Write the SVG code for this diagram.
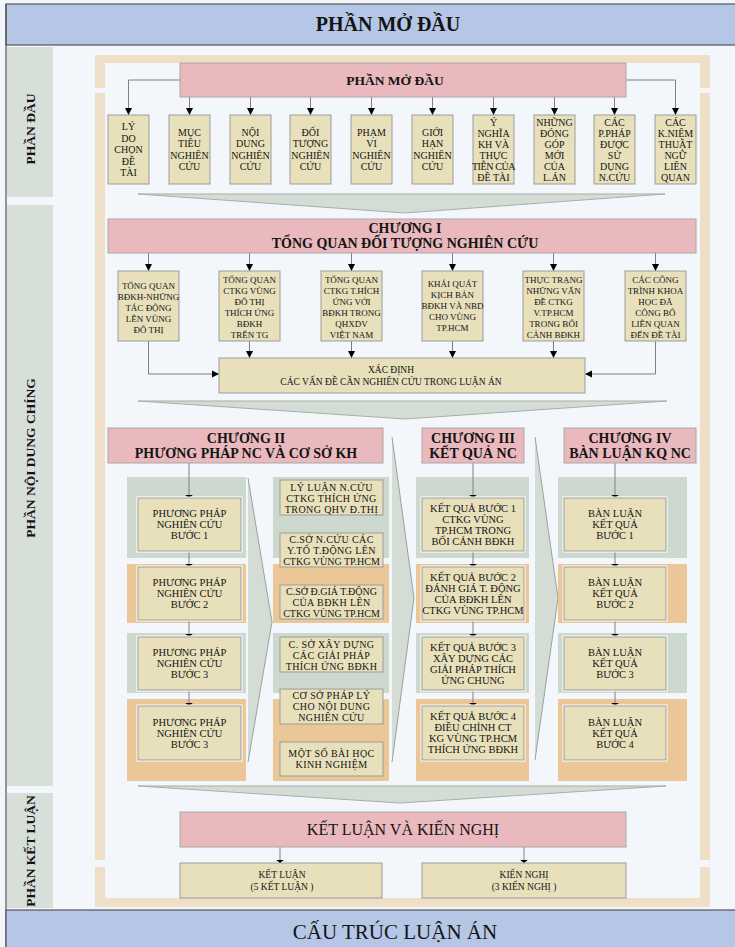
<svg xmlns="http://www.w3.org/2000/svg" width="735" height="947" viewBox="0 0 735 947">
  <defs>
    <style>
      .t{font-family:"Liberation Serif","Times New Roman",serif;text-anchor:middle;fill:#141414}
      .b{font-weight:bold}
      .f10{font-size:10px}
      .f9{font-size:9px}
      .f105{font-size:10.5px}
      .f14{font-size:14px}
      .sp{letter-spacing:0.4px}
      .band{fill:#d7e0d8}
      .pink{fill:#eab9bd;stroke:#a8a8a8;stroke-width:1}
      .khaki{fill:#e8e0bb;stroke:#9b9b9b;stroke-width:1}
      .kw{fill:#e8e0bb;stroke:#9b9b9b;stroke-width:1}
      .halo{fill:none;stroke:#ffffff;stroke-width:3}
      .green{fill:#cdd8ce}
      .orange{fill:#ebc797}
      .chev{fill:#d4ddd5;stroke:#a7afa8;stroke-width:1}
      .vchev{fill:#d4ddd5}
      .vedge{fill:none;stroke:#9aa39b;stroke-width:1}
      .ln{fill:none;stroke:#808080;stroke-width:1}
      .big{marker-end:url(#ah)}
      .flat{marker-end:url(#af)}
    </style>
    <marker id="ah" viewBox="0 0 10 10" refX="10" refY="5" markerUnits="userSpaceOnUse" markerWidth="7" markerHeight="9" orient="auto">
      <path d="M0,0 L10,5 L0,10 Z" fill="#000"/>
    </marker>
    <marker id="af" viewBox="0 0 4 10" refX="4" refY="5" markerUnits="userSpaceOnUse" markerWidth="3.5" markerHeight="8" orient="auto">
      <path d="M0,0 L4,5 L0,10 Z" fill="#000"/>
    </marker>
  </defs>

  <!-- page background -->
  <rect x="0" y="0" width="735" height="947" fill="#f3f6fa"/>

  <!-- title band -->
  <g id="title">
    <rect x="6" y="4" width="740" height="41" fill="#b5c6e6" stroke="#555" stroke-width="1.2"/>
    <text class="t b" x="388" y="31" font-size="20">PHẦN MỞ ĐẦU</text>
  </g>

  <!-- left section labels -->
  <g id="side-labels">
    <line x1="6" y1="4" x2="6" y2="947" stroke="#555" stroke-width="1.2"/>
    <rect class="band" x="7" y="47" width="46" height="150"/>
    <rect class="band" x="7" y="205" width="46" height="581"/>
    <rect class="band" x="7" y="793" width="46" height="115"/>
    <text class="t b" font-size="13.5" transform="translate(30,129) rotate(-90)" dy="0.35em">PHẦN ĐẦU</text>
    <text class="t b" font-size="13.5" transform="translate(30,458) rotate(-90)" dy="0.35em">PHẦN NỘI DUNG CHÍNG</text>
    <text class="t b" font-size="13.5" transform="translate(30,851) rotate(-90)" dy="0.35em">PHẦN KẾT LUẬN</text>
  </g>

  <!-- beige frame -->
  <g id="frame">
    <rect x="95" y="55" width="615" height="852" fill="#efdfc6"/>
    <rect x="105" y="63" width="595" height="835" fill="#f3f6fa"/>
    <rect x="94" y="88" width="12" height="5" fill="#f3f6fa"/>
    <rect x="699" y="88" width="12" height="5" fill="#f3f6fa"/>
    <rect x="94" y="860" width="12" height="7" fill="#f3f6fa"/>
    <rect x="699" y="860" width="12" height="7" fill="#f3f6fa"/>
  </g>

  <!-- flow chevrons -->
  <g id="chevrons">
    <polygon class="chev" points="138,194 665,194 405,213"/>
    <polygon class="chev" points="138,401 667,401 405,419"/>
    <polygon class="chev" points="138,786 666,786 400,803"/>
    <polygon class="vchev" points="248,478 272,622 248,762"/>
    <polyline class="vedge" points="248,478 272,622 248,762"/>
    <polygon class="vchev" points="392,437 414,598 392,762"/>
    <polyline class="vedge" points="392,437 414,598 392,762"/>
    <polygon class="vchev" points="535,437 558,598 535,760"/>
    <polyline class="vedge" points="535,437 558,598 535,760"/>
  </g>

  <!-- column bands -->
  <g id="column-bands">
    <rect class="green" x="127" y="477" width="119" height="81"/>
    <rect class="orange" x="127" y="564" width="119" height="59"/>
    <rect class="green" x="127" y="633" width="119" height="60"/>
    <rect class="orange" x="127" y="699" width="119" height="82"/>
    <rect class="green" x="273" y="477" width="116" height="81"/>
    <rect class="orange" x="273" y="564" width="116" height="59"/>
    <rect class="green" x="273" y="633" width="116" height="60"/>
    <rect class="orange" x="273" y="699" width="116" height="82"/>
    <rect class="green" x="416" y="477" width="113" height="81"/>
    <rect class="orange" x="416" y="564" width="113" height="59"/>
    <rect class="green" x="416" y="633" width="113" height="60"/>
    <rect class="orange" x="416" y="699" width="113" height="82"/>
    <rect class="green" x="558" y="477" width="129" height="81"/>
    <rect class="orange" x="558" y="564" width="129" height="59"/>
    <rect class="green" x="558" y="633" width="129" height="60"/>
    <rect class="orange" x="558" y="699" width="129" height="82"/>
  </g>

  <!-- connectors -->
  <g id="connectors">
    <path class="ln big" d="M180,80 H128.5 V115"/>
    <path class="ln big" d="M189.5,97 V115"/>
    <path class="ln big" d="M250.5,97 V115"/>
    <path class="ln big" d="M310.5,97 V115"/>
    <path class="ln big" d="M371.5,97 V115"/>
    <path class="ln big" d="M432.5,97 V115"/>
    <path class="ln big" d="M493.5,97 V115"/>
    <path class="ln big" d="M554.5,97 V115"/>
    <path class="ln big" d="M614.5,97 V115"/>
    <path class="ln big" d="M626,80 H675.5 V115"/>

    <path class="ln big" d="M148.5,253 V271"/>
    <path class="ln big" d="M249.5,253 V271"/>
    <path class="ln big" d="M351.5,253 V271"/>
    <path class="ln big" d="M452.5,253 V271"/>
    <path class="ln big" d="M553.5,253 V271"/>
    <path class="ln big" d="M655.5,253 V271"/>

    <path class="ln big" d="M148.5,341 V374 H219"/>
    <path class="ln big" d="M249.5,341 V358"/>
    <path class="ln big" d="M351.5,341 V358"/>
    <path class="ln big" d="M452.5,341 V358"/>
    <path class="ln big" d="M553.5,341 V358"/>
    <path class="ln big" d="M655.5,341 V374 H585"/>

    <path class="ln flat" d="M189,463 V498"/>
    <path class="ln flat" d="M189,551 V567"/>
    <path class="ln flat" d="M189,620 V637"/>
    <path class="ln flat" d="M189,690 V706"/>
    <path class="ln flat" d="M473,463 V498"/>
    <path class="ln flat" d="M473,551 V567"/>
    <path class="ln flat" d="M473,620 V637"/>
    <path class="ln flat" d="M473,690 V706"/>
    <path class="ln flat" d="M615,463 V498"/>
    <path class="ln flat" d="M615,551 V567"/>
    <path class="ln flat" d="M615,620 V637"/>
    <path class="ln flat" d="M615,690 V706"/>

    <path class="ln flat" d="M280,847 V863"/>
    <path class="ln flat" d="M524,847 V863"/>
  </g>

  <!-- opening part -->
  <g id="mo-dau">
    <rect class="pink" x="180" y="63" width="446" height="34"/>
    <text class="t b" x="395" y="85" font-size="13.5">PHẦN MỞ ĐẦU</text>
  </g>

  <g id="ly-do">
    <rect class="khaki" x="108" y="115" width="41" height="69"/>
    <text class="t f10"><tspan x="128.5" y="130">LÝ</tspan><tspan x="128.5" y="141.5">DO</tspan><tspan x="128.5" y="153">CHỌN</tspan><tspan x="128.5" y="164.5">ĐỀ</tspan><tspan x="128.5" y="176">TÀI</tspan></text>
  </g>
  <g id="muc-tieu">
    <rect class="khaki" x="169" y="115" width="41" height="69"/>
    <text class="t f10"><tspan x="189.5" y="135.8">MỤC</tspan><tspan x="189.5" y="147.3">TIÊU</tspan><tspan x="189.5" y="158.8">NGHIÊN</tspan><tspan x="189.5" y="170.3">CỨU</tspan></text>
  </g>
  <g id="noi-dung">
    <rect class="khaki" x="230" y="115" width="41" height="69"/>
    <text class="t f10"><tspan x="250.5" y="135.8">NỘI</tspan><tspan x="250.5" y="147.3">DUNG</tspan><tspan x="250.5" y="158.8">NGHIÊN</tspan><tspan x="250.5" y="170.3">CỨU</tspan></text>
  </g>
  <g id="doi-tuong">
    <rect class="khaki" x="290" y="115" width="41" height="69"/>
    <text class="t f10"><tspan x="310.5" y="135.8">ĐỐI</tspan><tspan x="310.5" y="147.3">TƯỢNG</tspan><tspan x="310.5" y="158.8">NGHIÊN</tspan><tspan x="310.5" y="170.3">CỨU</tspan></text>
  </g>
  <g id="pham-vi">
    <rect class="khaki" x="351" y="115" width="41" height="69"/>
    <text class="t f10"><tspan x="371.5" y="135.8">PHẠM</tspan><tspan x="371.5" y="147.3">VI</tspan><tspan x="371.5" y="158.8">NGHIÊN</tspan><tspan x="371.5" y="170.3">CỨU</tspan></text>
  </g>
  <g id="gioi-han">
    <rect class="khaki" x="412" y="115" width="41" height="69"/>
    <text class="t f10"><tspan x="432.5" y="135.8">GIỚI</tspan><tspan x="432.5" y="147.3">HẠN</tspan><tspan x="432.5" y="158.8">NGHIÊN</tspan><tspan x="432.5" y="170.3">CỨU</tspan></text>
  </g>
  <g id="y-nghia">
    <rect class="khaki" x="473" y="115" width="41" height="69"/>
    <text class="t f10"><tspan x="493.5" y="125.5">Ý</tspan><tspan x="493.5" y="136.5">NGHĨA</tspan><tspan x="493.5" y="147.5">KH VÀ</tspan><tspan x="493.5" y="158.5">THỰC</tspan><tspan x="493.5" y="169.5" letter-spacing="-0.4">TIỄN CỦA</tspan><tspan x="493.5" y="180.5">ĐỀ TÀI</tspan></text>
  </g>
  <g id="dong-gop">
    <rect class="khaki" x="534" y="115" width="41" height="69"/>
    <text class="t f10"><tspan x="554.5" y="125.5">NHỮNG</tspan><tspan x="554.5" y="136.5">ĐÓNG</tspan><tspan x="554.5" y="147.5">GÓP</tspan><tspan x="554.5" y="158.5">MỚI</tspan><tspan x="554.5" y="169.5">CỦA</tspan><tspan x="554.5" y="180.5">L.ÁN</tspan></text>
  </g>
  <g id="phuong-phap">
    <rect class="khaki" x="594" y="115" width="41" height="69"/>
    <text class="t f10"><tspan x="614.5" y="125.5">CÁC</tspan><tspan x="614.5" y="136.5">P.PHÁP</tspan><tspan x="614.5" y="147.5">ĐƯỢC</tspan><tspan x="614.5" y="158.5">SỬ</tspan><tspan x="614.5" y="169.5">DỤNG</tspan><tspan x="614.5" y="180.5">N.CỨU</tspan></text>
  </g>
  <g id="khai-niem">
    <rect class="khaki" x="655" y="115" width="41" height="69"/>
    <text class="t f10"><tspan x="675.5" y="125.5">CÁC</tspan><tspan x="675.5" y="136.5">K.NIỆM</tspan><tspan x="675.5" y="147.5">THUẬT</tspan><tspan x="675.5" y="158.5">NGỮ</tspan><tspan x="675.5" y="169.5">LIÊN</tspan><tspan x="675.5" y="180.5">QUAN</tspan></text>
  </g>

  <!-- chapter I -->
  <g id="chuong-1">
    <rect class="pink" x="108" y="219" width="588" height="34"/>
    <text class="t b f14"><tspan x="405" y="233">CHƯƠNG I</tspan><tspan x="405" y="248">TỔNG QUAN ĐỐI TƯỢNG NGHIÊN CỨU</tspan></text>
  </g>
  <g id="tq-bdkh">
    <rect class="khaki" x="118" y="271" width="61" height="70"/>
    <text class="t f9"><tspan x="148.5" y="288.5">TỔNG QUAN</tspan><tspan x="148.5" y="299.5">BĐKH-NHỮNG</tspan><tspan x="148.5" y="310.5">TÁC ĐỘNG</tspan><tspan x="148.5" y="321.5">LÊN VÙNG</tspan><tspan x="148.5" y="332.5">ĐÔ THỊ</tspan></text>
  </g>
  <g id="tq-ctkg-tg">
    <rect class="khaki" x="219" y="271" width="61" height="70"/>
    <text class="t f9"><tspan x="249.5" y="283">TỔNG QUAN</tspan><tspan x="249.5" y="294">CTKG VÙNG</tspan><tspan x="249.5" y="305">ĐÔ THỊ</tspan><tspan x="249.5" y="316">THÍCH ỨNG</tspan><tspan x="249.5" y="327">BĐKH</tspan><tspan x="249.5" y="338">TRÊN TG</tspan></text>
  </g>
  <g id="tq-ctkg-vn">
    <rect class="khaki" x="321" y="271" width="61" height="70"/>
    <text class="t f9"><tspan x="351.5" y="283">TỔNG QUAN</tspan><tspan x="351.5" y="294">CTKG T.HÍCH</tspan><tspan x="351.5" y="305">ỨNG VỚI</tspan><tspan x="351.5" y="316">BĐKH TRONG</tspan><tspan x="351.5" y="327">QHXDV</tspan><tspan x="351.5" y="338">VIỆT NAM</tspan></text>
  </g>
  <g id="kich-ban">
    <rect class="khaki" x="422" y="271" width="61" height="70"/>
    <text class="t f9"><tspan x="452.5" y="286.5">KHÁI QUÁT</tspan><tspan x="452.5" y="297.5">KỊCH BẢN</tspan><tspan x="452.5" y="308.5">BĐKH VÀ NBD</tspan><tspan x="452.5" y="319.5">CHO VÙNG</tspan><tspan x="452.5" y="330.5">TP.HCM</tspan></text>
  </g>
  <g id="thuc-trang">
    <rect class="khaki" x="523" y="271" width="61" height="70"/>
    <text class="t f9"><tspan x="553.5" y="283">THỰC TRẠNG</tspan><tspan x="553.5" y="294">NHỮNG VẤN</tspan><tspan x="553.5" y="305">ĐỀ CTKG</tspan><tspan x="553.5" y="316">V.TP.HCM</tspan><tspan x="553.5" y="327">TRONG BỐI</tspan><tspan x="553.5" y="338">CẢNH BĐKH</tspan></text>
  </g>
  <g id="cong-trinh">
    <rect class="khaki" x="625" y="271" width="61" height="70"/>
    <text class="t f9"><tspan x="655.5" y="283">CÁC CÔNG</tspan><tspan x="655.5" y="294">TRÌNH KHOA</tspan><tspan x="655.5" y="305">HỌC ĐÃ</tspan><tspan x="655.5" y="316">CÔNG BỐ</tspan><tspan x="655.5" y="327">LIÊN QUAN</tspan><tspan x="655.5" y="338">ĐẾN ĐỀ TÀI</tspan></text>
  </g>
  <g id="xac-dinh">
    <rect class="khaki" x="219" y="358" width="366" height="35"/>
    <text class="t" font-size="9.5"><tspan x="391" y="372.5">XÁC ĐỊNH</tspan><tspan x="391" y="385">CÁC VẤN ĐỀ CẦN NGHIÊN CỨU TRONG LUẬN ÁN</tspan></text>
  </g>

  <!-- chapter II -->
  <g id="chuong-2">
    <rect class="pink" x="108" y="428" width="275" height="35"/>
    <text class="t b f14"><tspan x="246" y="443">CHƯƠNG II</tspan><tspan x="246" y="458">PHƯƠNG PHÁP NC VÀ CƠ SỞ KH</tspan></text>
  </g>
  <g id="pp-buoc-1">
    <rect class="halo" x="138" y="498" width="103" height="53"/>
    <rect class="kw" x="138" y="498" width="103" height="53"/>
    <text class="t f105"><tspan x="189.5" y="517.2">PHƯƠNG PHÁP</tspan><tspan x="189.5" y="528.2">NGHIÊN CỨU</tspan><tspan x="189.5" y="539.2">BƯỚC 1</tspan></text>
  </g>
  <g id="pp-buoc-2">
    <rect class="halo" x="138" y="567" width="103" height="53"/>
    <rect class="kw" x="138" y="567" width="103" height="53"/>
    <text class="t f105"><tspan x="189.5" y="586.2">PHƯƠNG PHÁP</tspan><tspan x="189.5" y="597.2">NGHIÊN CỨU</tspan><tspan x="189.5" y="608.2">BƯỚC 2</tspan></text>
  </g>
  <g id="pp-buoc-3">
    <rect class="halo" x="138" y="637" width="103" height="53"/>
    <rect class="kw" x="138" y="637" width="103" height="53"/>
    <text class="t f105"><tspan x="189.5" y="656.2">PHƯƠNG PHÁP</tspan><tspan x="189.5" y="667.2">NGHIÊN CỨU</tspan><tspan x="189.5" y="678.2">BƯỚC 3</tspan></text>
  </g>
  <g id="pp-buoc-4">
    <rect class="halo" x="138" y="706" width="103" height="54"/>
    <rect class="kw" x="138" y="706" width="103" height="54"/>
    <text class="t f105"><tspan x="189.5" y="725.7">PHƯƠNG PHÁP</tspan><tspan x="189.5" y="736.7">NGHIÊN CỨU</tspan><tspan x="189.5" y="747.7">BƯỚC 3</tspan></text>
  </g>

  <g id="ly-luan">
    <rect class="kw" x="280" y="480" width="103" height="35"/>
    <text class="t f10 sp"><tspan x="331.5" y="490.5">LÝ LUẬN N.CỨU</tspan><tspan x="331.5" y="501.5">CTKG THÍCH ỨNG</tspan><tspan x="331.5" y="512.5">TRONG QHV Đ.THỊ</tspan></text>
  </g>
  <g id="co-so-yeu-to">
    <rect class="kw" x="280" y="533" width="103" height="34"/>
    <text class="t f10 sp"><tspan x="331.5" y="542.5">C.SỞ  N.CỨU CÁC</tspan><tspan x="331.5" y="553.5">Y.TỐ T.ĐỘNG LÊN</tspan><tspan x="331.5" y="564.5" letter-spacing="0">CTKG VÙNG TP.HCM</tspan></text>
  </g>
  <g id="co-so-danh-gia">
    <rect class="kw" x="280" y="585" width="103" height="34"/>
    <text class="t f10 sp"><tspan x="331.5" y="594.5" letter-spacing="0">C.SỞ Đ.GIÁ T.ĐỘNG</tspan><tspan x="331.5" y="605.5">CỦA BĐKH LÊN</tspan><tspan x="331.5" y="616.5" letter-spacing="0">CTKG VÙNG TP.HCM</tspan></text>
  </g>
  <g id="co-so-giai-phap">
    <rect class="kw" x="280" y="637" width="103" height="35"/>
    <text class="t f10 sp"><tspan x="331.5" y="647.5">C. SỞ XÂY DỰNG</tspan><tspan x="331.5" y="658.5">CÁC GIẢI PHÁP</tspan><tspan x="331.5" y="669.5">THÍCH ỨNG BĐKH</tspan></text>
  </g>
  <g id="co-so-phap-ly">
    <rect class="kw" x="280" y="689" width="103" height="35"/>
    <text class="t f10 sp"><tspan x="331.5" y="699">CƠ SỞ PHÁP LÝ</tspan><tspan x="331.5" y="710">CHO NỘI DUNG</tspan><tspan x="331.5" y="721">NGHIÊN CỨU</tspan></text>
  </g>
  <g id="bai-hoc">
    <rect class="kw" x="280" y="742" width="103" height="34"/>
    <text class="t f10 sp"><tspan x="331.5" y="757">MỘT SỐ BÀI HỌC</tspan><tspan x="331.5" y="768">KINH NGHIỆM</tspan></text>
  </g>

  <!-- chapter III -->
  <g id="chuong-3">
    <rect class="pink" x="422" y="428" width="102" height="35"/>
    <text class="t b f14"><tspan x="473" y="443">CHƯƠNG III</tspan><tspan x="473" y="458">KẾT QUẢ NC</tspan></text>
  </g>
  <g id="kq-buoc-1">
    <rect class="halo" x="422" y="498" width="102" height="53"/>
    <rect class="kw" x="422" y="498" width="102" height="53"/>
    <text class="t f105"><tspan x="473" y="511.7">KẾT QUẢ BƯỚC 1</tspan><tspan x="473" y="522.7">CTKG VÙNG</tspan><tspan x="473" y="533.7">TP.HCM TRONG</tspan><tspan x="473" y="544.7">BỐI CẢNH BĐKH</tspan></text>
  </g>
  <g id="kq-buoc-2">
    <rect class="halo" x="422" y="567" width="102" height="53"/>
    <rect class="kw" x="422" y="567" width="102" height="53"/>
    <text class="t f105"><tspan x="473" y="580.7">KẾT QUẢ BƯỚC 2</tspan><tspan x="473" y="591.7">ĐÁNH GIÁ T. ĐỘNG</tspan><tspan x="473" y="602.7">CỦA BĐKH LÊN</tspan><tspan x="473" y="613.7">CTKG VÙNG TP.HCM</tspan></text>
  </g>
  <g id="kq-buoc-3">
    <rect class="halo" x="422" y="637" width="102" height="53"/>
    <rect class="kw" x="422" y="637" width="102" height="53"/>
    <text class="t f105"><tspan x="473" y="650.7">KẾT QUẢ BƯỚC 3</tspan><tspan x="473" y="661.7">XÂY DỰNG CÁC</tspan><tspan x="473" y="672.7">GIẢI PHÁP THÍCH</tspan><tspan x="473" y="683.7">ỨNG CHUNG</tspan></text>
  </g>
  <g id="kq-buoc-4">
    <rect class="halo" x="422" y="706" width="102" height="54"/>
    <rect class="kw" x="422" y="706" width="102" height="54"/>
    <text class="t f105"><tspan x="473" y="720.2">KẾT QUẢ BƯỚC 4</tspan><tspan x="473" y="731.2">ĐIỀU CHỈNH CT</tspan><tspan x="473" y="742.2">KG VÙNG TP.HCM</tspan><tspan x="473" y="753.2">THÍCH ỨNG BĐKH</tspan></text>
  </g>

  <!-- chapter IV -->
  <g id="chuong-4">
    <rect class="pink" x="564" y="428" width="132" height="35"/>
    <text class="t b f14"><tspan x="630" y="443">CHƯƠNG IV</tspan><tspan x="630" y="458">BÀN LUẬN KQ NC</tspan></text>
  </g>
  <g id="bl-buoc-1">
    <rect class="halo" x="564" y="498" width="102" height="53"/>
    <rect class="kw" x="564" y="498" width="102" height="53"/>
    <text class="t f105"><tspan x="615" y="517.2">BÀN LUẬN</tspan><tspan x="615" y="528.2">KẾT QUẢ</tspan><tspan x="615" y="539.2">BƯỚC 1</tspan></text>
  </g>
  <g id="bl-buoc-2">
    <rect class="halo" x="564" y="567" width="102" height="53"/>
    <rect class="kw" x="564" y="567" width="102" height="53"/>
    <text class="t f105"><tspan x="615" y="586.2">BÀN LUẬN</tspan><tspan x="615" y="597.2">KẾT QUẢ</tspan><tspan x="615" y="608.2">BƯỚC 2</tspan></text>
  </g>
  <g id="bl-buoc-3">
    <rect class="halo" x="564" y="637" width="102" height="53"/>
    <rect class="kw" x="564" y="637" width="102" height="53"/>
    <text class="t f105"><tspan x="615" y="656.2">BÀN LUẬN</tspan><tspan x="615" y="667.2">KẾT QUẢ</tspan><tspan x="615" y="678.2">BƯỚC 3</tspan></text>
  </g>
  <g id="bl-buoc-4">
    <rect class="halo" x="564" y="706" width="102" height="54"/>
    <rect class="kw" x="564" y="706" width="102" height="54"/>
    <text class="t f105"><tspan x="615" y="725.7">BÀN LUẬN</tspan><tspan x="615" y="736.7">KẾT QUẢ</tspan><tspan x="615" y="747.7">BƯỚC 4</tspan></text>
  </g>

  <!-- conclusion part -->
  <g id="ket-luan-kien-nghi">
    <rect class="pink" x="180" y="812" width="446" height="35"/>
    <text class="t" x="403" y="835" font-size="16">KẾT LUẬN VÀ KIẾN NGHỊ</text>
  </g>
  <g id="ket-luan">
    <rect class="khaki" x="180" y="863" width="202" height="35"/>
    <text class="t" font-size="9.5"><tspan x="282" y="878">KẾT LUẬN</tspan><tspan x="282" y="890">(5 KẾT LUẬN )</tspan></text>
  </g>
  <g id="kien-nghi">
    <rect class="khaki" x="422" y="863" width="204" height="35"/>
    <text class="t" font-size="9.5"><tspan x="524" y="878">KIẾN NGHỊ</tspan><tspan x="524" y="890">(3 KIẾN NGHỊ )</tspan></text>
  </g>

  <!-- footer band -->
  <g id="footer">
    <rect x="6" y="910" width="740" height="45" fill="#b5c6e6" stroke="#555" stroke-width="1.2"/>
    <text class="t" x="395" y="939" font-size="21">CẤU TRÚC LUẬN ÁN</text>
  </g>
</svg>
